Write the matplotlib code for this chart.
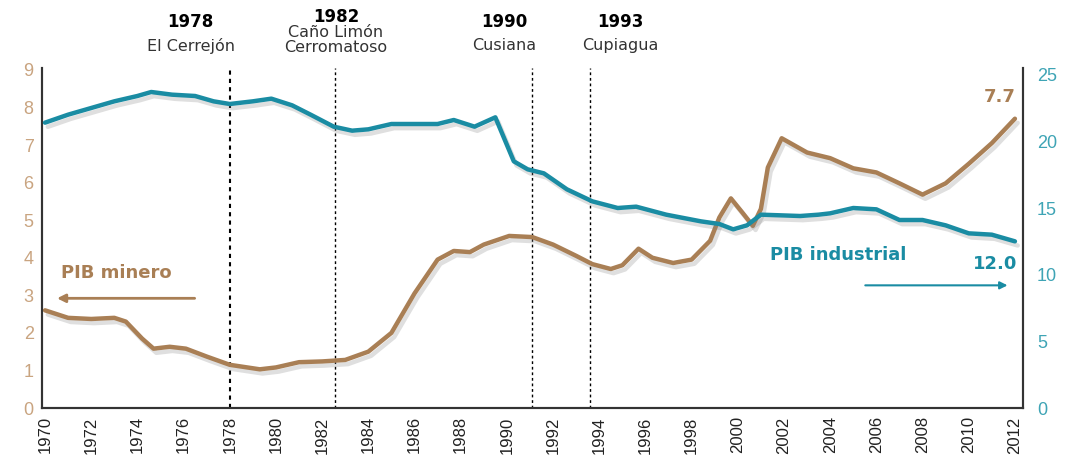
import matplotlib
matplotlib.use("Agg")
import matplotlib.pyplot as plt
import matplotlib.patheffects as pe

# PIB minero (eje izquierdo, %)
mining_years = [1970, 1971, 1972, 1973, 1973.5, 1974.2, 1974.7, 1975.4, 1976.1, 1977,
                1978, 1979.3, 1980, 1981, 1982, 1983, 1984, 1985, 1986, 1987,
                1987.7, 1988.4, 1989, 1990.1, 1991.1, 1992, 1993, 1993.7, 1994.5, 1995,
                1995.7, 1996.3, 1997.2, 1998, 1998.8, 1999.2, 1999.7, 2000.2, 2000.65, 2001.0,
                2001.3, 2001.9, 2003, 2004, 2005, 2006, 2007, 2008, 2009, 2010,
                2011, 2012]
mining_vals = [2.6, 2.4, 2.37, 2.4, 2.3, 1.85, 1.58, 1.63, 1.58, 1.37,
               1.15, 1.03, 1.08, 1.22, 1.24, 1.28, 1.5, 2.0, 3.05, 3.95,
               4.18, 4.15, 4.35, 4.58, 4.55, 4.35, 4.05, 3.83, 3.7, 3.8,
               4.24, 4.0, 3.86, 3.95, 4.45, 5.07, 5.58, 5.2, 4.85, 5.3,
               6.4, 7.18, 6.8, 6.65, 6.38, 6.27, 5.98, 5.68, 5.98, 6.5,
               7.05, 7.7]

# PIB industrial (eje derecho, %)
ind_years = [1970, 1971, 1972, 1973, 1974, 1974.6, 1975.5, 1976.5, 1977.3, 1978,
             1979, 1979.8, 1980.7, 1981.5, 1982.5, 1983.3, 1984, 1985, 1986, 1987,
             1987.7, 1988.6, 1989.5, 1990.3, 1990.9, 1991.6, 1992.6, 1993.7, 1994.8, 1995.6,
             1996.9, 1998.4, 1999.2, 1999.8, 2000.4, 2001.0, 2002.7, 2003.5, 2004, 2005,
             2006, 2007, 2008, 2009, 2010, 2011, 2012]
ind_vals = [21.4, 22.0, 22.5, 23.0, 23.4, 23.7, 23.5, 23.4, 23.0, 22.8,
            23.0, 23.2, 22.7, 22.0, 21.1, 20.8, 20.9, 21.3, 21.3, 21.3,
            21.6, 21.1, 21.8, 18.5, 17.9, 17.6, 16.4, 15.5, 15.0, 15.1,
            14.5, 14.0, 13.8, 13.4, 13.7, 14.5, 14.4, 14.5, 14.6, 15.0,
            14.9, 14.1, 14.1, 13.7, 13.1, 13.0, 12.5]

# hitos
events = [
    (1978.0, 1976.3, "1978", ["El Cerrejón"], 1.5),
    (1982.55, 1982.6, "1982", ["Caño Limón", "Cerromatoso"], 1.0),
    (1991.1, 1989.9, "1990", ["Cusiana"], 1.0),
    (1993.6, 1994.9, "1993", ["Cupiagua"], 1.0),
]

xticks = list(range(1970, 2013, 2))
left_ticks = list(range(0, 10))
right_ticks = [0, 5, 10, 15, 20, 25]

brown = "#a97f55"
brown_lbl = "#c9a480"
teal = "#1a8ca3"
teal_lbl = "#3ea4b5"

fig = plt.figure(figsize=(10.72, 4.67), dpi=100)
ax = fig.add_axes([0.0392, 0.1263, 0.9151, 0.7281])
ax2 = ax.twinx()

shadow = [pe.SimpleLineShadow(offset=(2, -3), shadow_color="gray", alpha=0.25), pe.Normal()]

ax.plot(mining_years, mining_vals, color=brown, lw=3.2, solid_capstyle="round",
        solid_joinstyle="round", path_effects=shadow, zorder=3)
ax2.plot(ind_years, ind_vals, color=teal, lw=3.2, solid_capstyle="round",
         solid_joinstyle="round", path_effects=shadow, zorder=3)

ax.set_xlim(1969.87, 2012.35)
ax.set_ylim(0, 9.05)
ax2.set_ylim(0, 25.5)

for xline, xtxt, year, names, lw in events:
    ax.axvline(xline, color="black", lw=lw, ls=(0, (2, 2)), zorder=2)
    ax.text(xtxt, 1.135 if len(names) == 1 else 1.15, year, transform=ax.get_xaxis_transform(),
            ha="center", va="center", fontsize=12, fontweight="bold", color="black")
    if len(names) == 1:
        ax.text(xtxt, 1.065, names[0], transform=ax.get_xaxis_transform(),
                ha="center", va="center", fontsize=11.5, color="#333333")
    else:
        ax.text(xtxt, 1.103, names[0], transform=ax.get_xaxis_transform(),
                ha="center", va="center", fontsize=11.5, color="#333333")
        ax.text(xtxt, 1.06, names[1], transform=ax.get_xaxis_transform(),
                ha="center", va="center", fontsize=11.5, color="#333333")

ax.set_xticks(xticks)
ax.set_xticklabels([str(y) for y in xticks], rotation=90, fontsize=12,
                   family=["Liberation Sans Narrow", "Liberation Sans"], color="#222222")
ax.set_yticks(left_ticks)
ax.set_yticklabels([str(v) for v in left_ticks], fontsize=13, color=brown_lbl,
                   family=["Liberation Sans"])
ax2.set_yticks(right_ticks)
ax2.set_yticklabels([str(v) for v in right_ticks], fontsize=13, color=teal_lbl,
                    family=["Liberation Sans"])
ax.tick_params(axis="both", length=0, pad=6)
ax2.tick_params(axis="y", length=0, pad=10)

for a in (ax, ax2):
    a.spines["top"].set_visible(False)
    for s in ("left", "right", "bottom"):
        a.spines[s].set_color("#333333")
        a.spines[s].set_linewidth(1.5)

# etiquetas de series
ax.text(1970.7, 3.6, "PIB minero", fontsize=13, fontweight="bold", color=brown,
        ha="left", va="center")
ax.annotate("", xy=(1970.4, 2.92), xytext=(1976.6, 2.92),
            arrowprops=dict(arrowstyle="-|>", color=brown, lw=2, mutation_scale=12))
ax.text(2012.05, 8.28, "7.7", fontsize=13, fontweight="bold", color=brown,
        ha="right", va="center")

ax2.text(2001.4, 11.45, "PIB industrial", fontsize=13, fontweight="bold", color=teal,
         ha="left", va="center")
ax2.text(2012.1, 10.8, "12.0", fontsize=13, fontweight="bold", color=teal,
         ha="right", va="center")
ax2.annotate("", xy=(2011.8, 9.2), xytext=(2005.4, 9.2),
             arrowprops=dict(arrowstyle="-|>", color=teal, lw=1.5, mutation_scale=11))

fig.savefig("out.png", dpi=100)
